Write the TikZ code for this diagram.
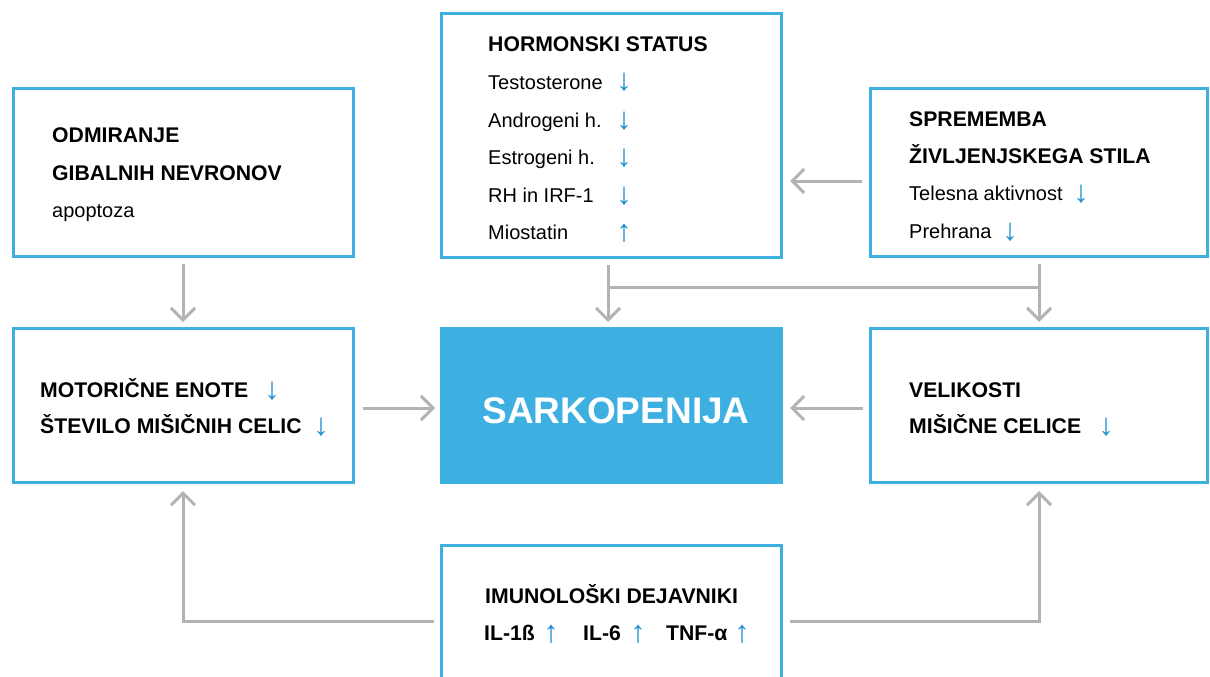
\documentclass[tikz,border=0pt]{standalone}
\usepackage{fontspec}
\setmainfont{Liberation Sans}
\usetikzlibrary{arrows.meta}
\definecolor{bblue}{HTML}{3DB0E1}
\definecolor{ablue}{HTML}{1E8FD0}
\definecolor{cgray}{HTML}{B3B3B5}
\begin{document}
\begin{tikzpicture}[x=1pt,y=-1pt,
  box/.style={draw=bblue, line width=3pt, inner sep=0pt},
  conn/.style={draw=cgray, line width=3pt, -{Straight Barb[length=12pt,width=24pt]}},
  plain/.style={draw=cgray, line width=3pt},
  hd/.style={anchor=base west, inner sep=0pt, font=\fontsize{21.2}{24}\selectfont\bfseries},
  tx/.style={anchor=base west, inner sep=0pt, font=\fontsize{20}{24}\selectfont},
  ar/.style={anchor=base, inner sep=0pt, text=ablue, font=\fontsize{31}{34}\selectfont, yshift=-2pt}]
\useasboundingbox (0,0) rectangle (1210,677);
\clip (0,0) rectangle (1210,677);
\fill[white] (0,0) rectangle (1210,677);
% boxes
\node[box, minimum width=340pt, minimum height=244pt] (horm) at (611.5,135.5) {};
\node[box, minimum width=337pt, minimum height=168pt] (spr) at (1039,172.5) {};
\node[box, minimum width=340pt, minimum height=168pt] (odm) at (183,172.5) {};
\node[box, minimum width=340pt, minimum height=154pt] (mot) at (183,405.5) {};
\node[box, fill=bblue, minimum width=340pt, minimum height=154pt] (sark) at (611.5,405.5) {};
\node[box, minimum width=337pt, minimum height=154pt] (vel) at (1039,405.5) {};
\node[box, minimum width=340pt, minimum height=150pt] (imun) at (611.5,620) {};
% Hormonski status
\node[hd] (h0) at (488,52) {HORMONSKI STATUS};
\node[tx] (h1) at (488,89) {Testosterone};
\node[tx] (h2) at (488,127) {Androgeni h.};
\node[tx] (h3) at (488,164) {Estrogeni h.};
\node[tx] (h4) at (488,202) {RH in IRF-1};
\node[tx] (h5) at (488,239) {Miostatin};
\node[ar] (ha1) at (624,89) {↓};
\node[ar] (ha2) at (624,127) {↓};
\node[ar] (ha3) at (624,164) {↓};
\node[ar] (ha4) at (624,202) {↓};
\node[ar] (ha5) at (624,239) {↑};
% Sprememba
\node[hd] (s0) at (909,126) {SPREMEMBA};
\node[hd] (s1) at (909,163) {ŽIVLJENJSKEGA STILA};
\node[tx] (s2) at (909,200) {Telesna aktivnost};
\node[tx] (s3) at (909,238) {Prehrana};
\node[ar] (sa2) at (1081,200) {↓};
\node[ar] (sa3) at (1010,238) {↓};
% Odmiranje
\node[hd] (o0) at (52,142) {ODMIRANJE};
\node[hd] (o1) at (52,180) {GIBALNIH NEVRONOV};
\node[tx] (o2) at (52,217) {apoptoza};
% Motoricne
\node[hd] (m0) at (40,397) {MOTORIČNE ENOTE};
\node[hd] (m1) at (40,433) {ŠTEVILO MIŠIČNIH CELIC};
\node[ar] (ma0) at (272,397) {↓};
\node[ar] (ma1) at (321,433) {↓};
% Sarkopenija
\node[anchor=base, inner sep=0pt, text=white, font=\fontsize{37}{40}\selectfont\bfseries] (st) at (616,423) {SARKOPENIJA};
% Velikosti
\node[hd] (v0) at (909,397) {VELIKOSTI};
\node[hd] (v1) at (909,433) {MIŠIČNE CELICE};
\node[ar] (va1) at (1106,433) {↓};
% Imunoloski
\node[hd] (i0) at (485,603) {IMUNOLOŠKI DEJAVNIKI};
\node[hd] (i1) at (484,640) {IL-1ß};
\node[hd] (i2) at (583,640) {IL-6};
\node[hd] (i3) at (666,640) {TNF-α};
\node[ar] (ia1) at (551,640) {↑};
\node[ar] (ia2) at (638,640) {↑};
\node[ar] (ia3) at (742,640) {↑};
% helper coordinates
\coordinate (hx) at (608,0);
\coordinate (jy) at (0,287);
\coordinate (ya) at (0,181);
\coordinate (yb) at (0,408);
\coordinate (yc) at (0,621);
% connectors
\draw[conn, shorten <=6pt, shorten >=5pt] (odm.south) -- (mot.north);
\draw[conn, shorten <=6pt, shorten >=5pt] (hx |- horm.south) -- (hx |- sark.north);
\draw[conn, shorten <=6pt, shorten >=5pt] (spr.south) -- (vel.north);
\draw[plain] (hx |- jy) -- (spr.south |- jy);
\draw[conn, shorten <=7pt, shorten >=7pt] (spr.west |- ya) -- (horm.east |- ya);
\draw[conn, shorten <=8pt, shorten >=5pt] (mot.east |- yb) -- (sark.west |- yb);
\draw[conn, shorten <=6pt, shorten >=7pt] (vel.west |- yb) -- (sark.east |- yb);
\draw[conn, shorten <=6pt, shorten >=7pt] (imun.west |- yc) -- (mot.south |- yc) -- (mot.south);
\draw[conn, shorten <=7pt, shorten >=7pt] (imun.east |- yc) -- (vel.south |- yc) -- (vel.south);
\end{tikzpicture}
\end{document}
